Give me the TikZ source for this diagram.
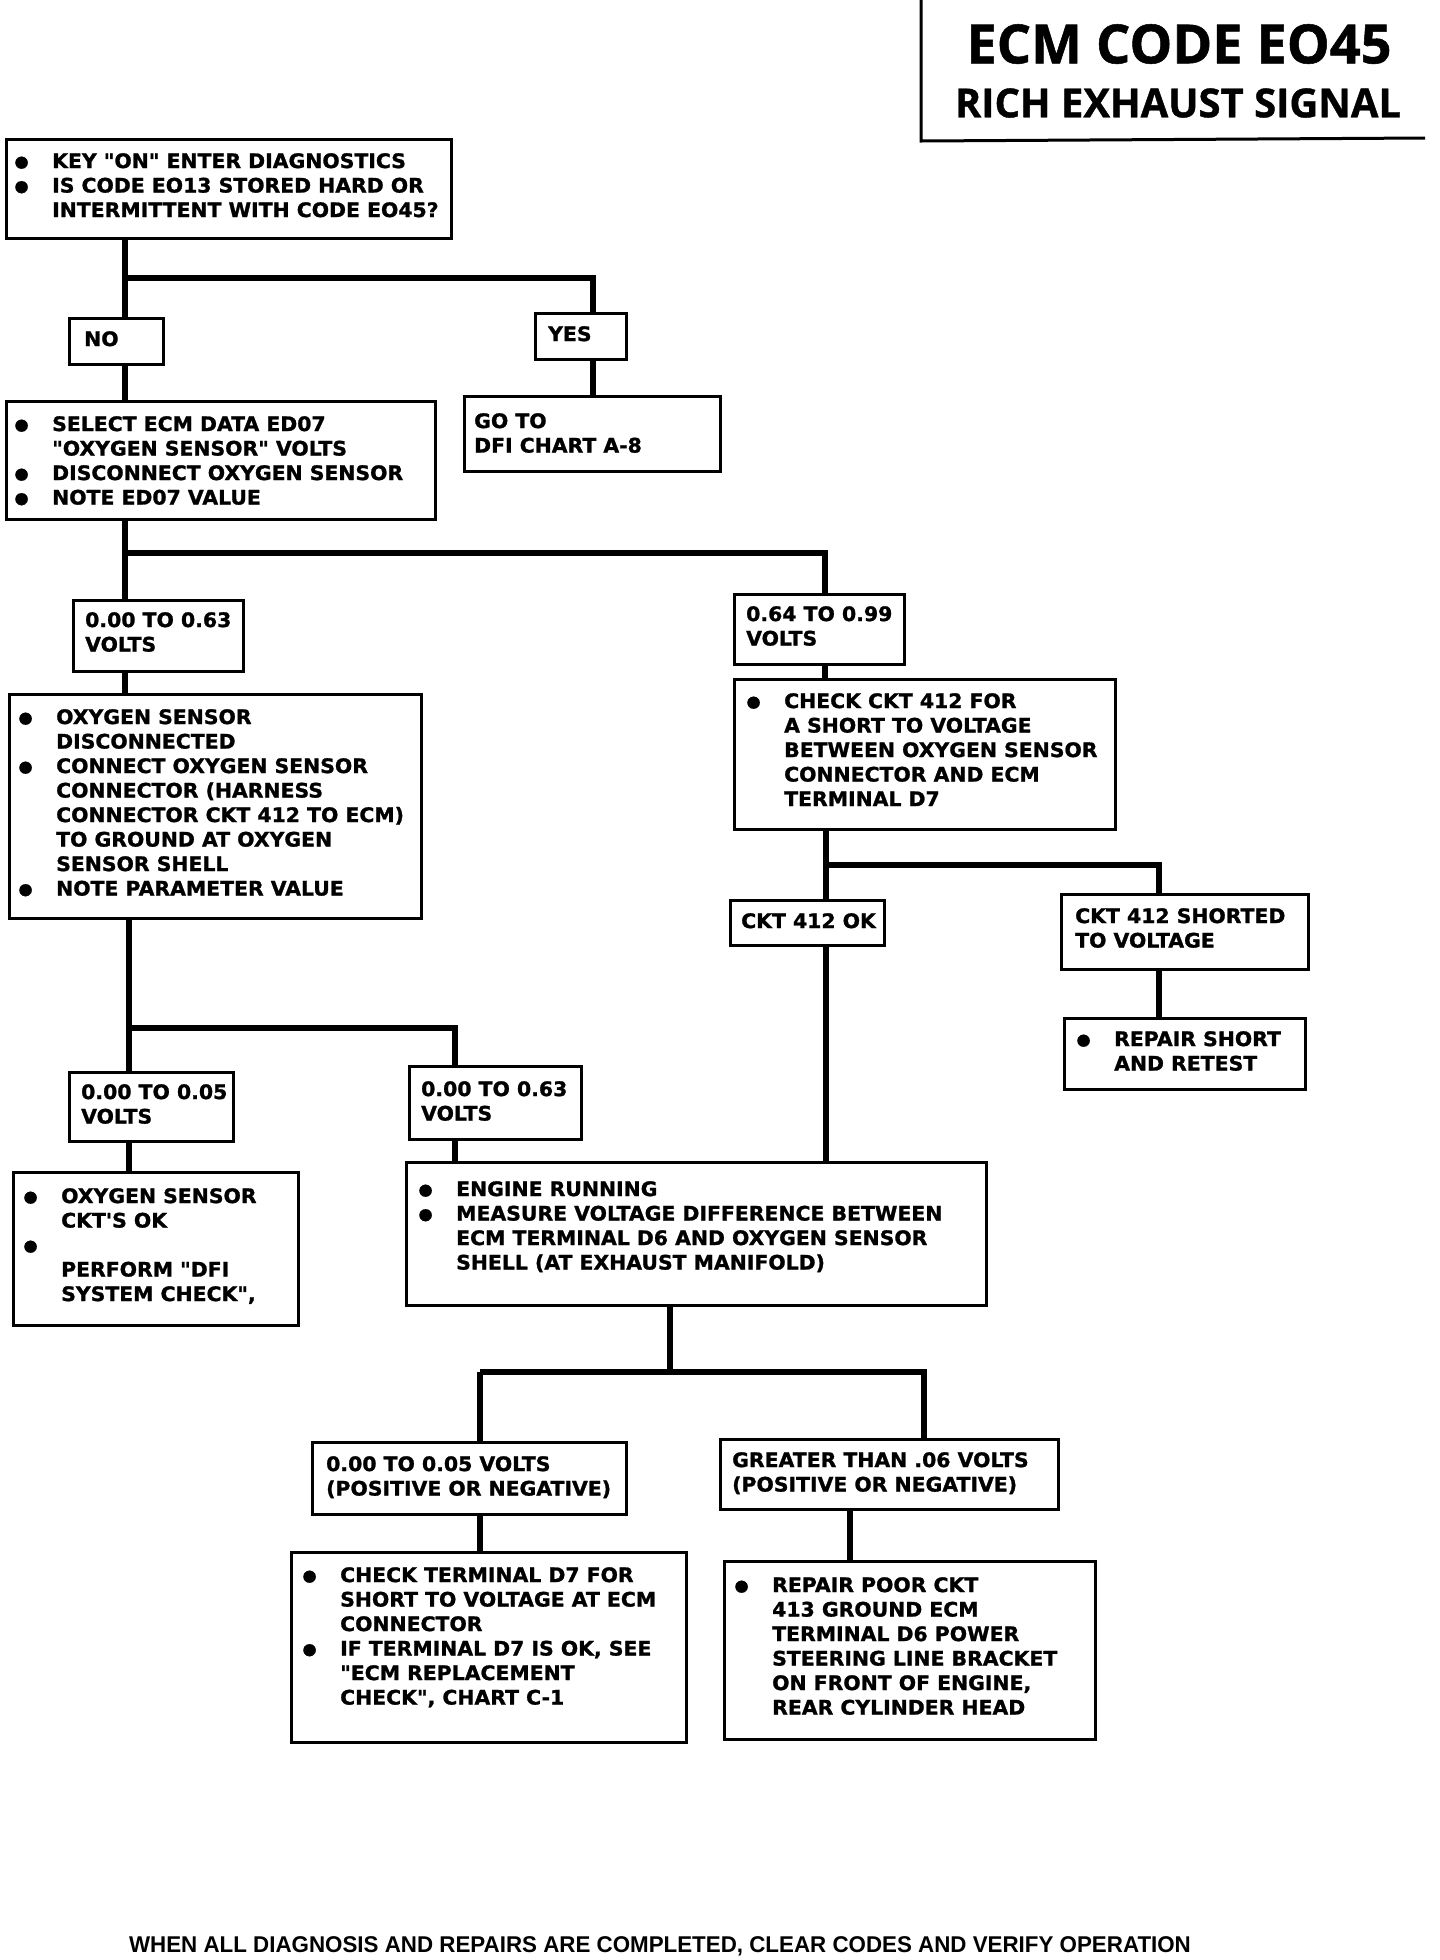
\documentclass[tikz,border=0pt]{standalone}
\usepackage{fontspec}
\setmainfont{DejaVu Sans}
\newfontfamily\chartfont{DejaVu Sans}[FakeStretch=1.02, FakeBold=1.2]
\newfontfamily\titlefont{Open Sans}[FakeBold=1]
\newfontfamily\footfont{Liberation Sans}[FakeStretch=0.98]
\usetikzlibrary{positioning}

% bullet set in front of a line
\newcommand{\bul}{\makebox[0pt][r]{\raisebox{1.2pt}{\fontsize{16}{16}\selectfont ●}\hspace{23.5pt}}}

\tikzset{
  panel/.style={draw, line width=3pt, inner sep=0pt, outer sep=0pt, anchor=north west},
  words/.style={inner sep=0pt, anchor=north west, align=left,
    font={\chartfont\bfseries\fontsize{20}{24.5}\selectfont}},
  link/.style={line width=6pt},
}

\begin{document}
\begin{tikzpicture}[x=1pt, y=-1pt]
    \fill[white] (0,0) rectangle (1440,1960);
    \useasboundingbox (0,0) rectangle (1440,1960);

    % title corner
    \draw[line width=3pt] (921,0) -- (921,141) -- (1425,138);
    \node[font={\titlefont\bfseries\fontsize{54}{54}\selectfont}] (title) at (1179,44) {ECM CODE EO45};
    \node[font={\titlefont\bfseries\fontsize{40}{40}\selectfont}] (subtitle) at (1178,103) {RICH EXHAUST SIGNAL};

    % boxes
    \node[panel, minimum width=445, minimum height=99] (keyon) at (6,139) {};
    \node[words, below right=14pt and 46pt of keyon.north west] (keyon-t) {\bul KEY "ON" ENTER DIAGNOSTICS\\ \bul IS CODE EO13 STORED HARD OR\\ INTERMITTENT WITH CODE EO45?};

    \node[panel, minimum width=94, minimum height=46] (no) at (69,318) {};
    \node[words, below right=13pt and 15pt of no.north west] (no-t) {NO};
    \node[panel, minimum width=91, minimum height=46] (yes) at (535,313) {};
    \node[words, below right=13pt and 13pt of yes.north west] (yes-t) {YES};

    \node[panel, minimum width=429, minimum height=118] (select) at (6,401) {};
    \node[words, below right=15pt and 46pt of select.north west] (select-t) {\bul SELECT ECM DATA ED07\\ "OXYGEN SENSOR" VOLTS\\ \bul DISCONNECT OXYGEN SENSOR\\ \bul NOTE ED07 VALUE};
    \node[panel, minimum width=256, minimum height=75] (goto) at (464,396) {};
    \node[words, below right=17pt and 10pt of goto.north west] (goto-t) {GO TO\\ DFI CHART A-8};

    \node[panel, minimum width=170, minimum height=71] (low1) at (73,600) {};
    \node[words, below right=12pt and 12pt of low1.north west] (low1-t) {0.00 TO 0.63\\ VOLTS};
    \node[panel, minimum width=170, minimum height=70] (high1) at (734,594) {};
    \node[words, below right=12pt and 12pt of high1.north west] (high1-t) {0.64 TO 0.99\\ VOLTS};

    \node[panel, minimum width=412, minimum height=224] (oxy) at (9,694) {};
    \node[words, below right=15pt and 47pt of oxy.north west] (oxy-t) {\bul OXYGEN SENSOR\\ DISCONNECTED\\ \bul CONNECT OXYGEN SENSOR\\ CONNECTOR (HARNESS\\ CONNECTOR CKT 412 TO ECM)\\ TO GROUND AT OXYGEN\\ SENSOR SHELL\\ \bul NOTE PARAMETER VALUE};
    \node[panel, minimum width=381, minimum height=150] (check) at (734,679) {};
    \node[words, below right=14pt and 50pt of check.north west] (check-t) {\bul CHECK CKT 412 FOR\\ A SHORT TO VOLTAGE\\ BETWEEN OXYGEN SENSOR\\ CONNECTOR AND ECM\\ TERMINAL D7};

    \node[panel, minimum width=154, minimum height=45] (ok) at (730,900) {};
    \node[words, below right=13pt and 11pt of ok.north west] (ok-t) {CKT 412 OK};
    \node[panel, minimum width=247, minimum height=75] (shorted) at (1061,894) {};
    \node[words, below right=14pt and 14pt of shorted.north west] (shorted-t) {CKT 412 SHORTED\\ TO VOLTAGE};
    \node[panel, minimum width=241, minimum height=71] (repair) at (1064,1018) {};
    \node[words, below right=13pt and 50pt of repair.north west] (repair-t) {\bul REPAIR SHORT\\ AND RETEST};

    \node[panel, minimum width=164, minimum height=69] (low2) at (69,1072) {};
    \node[words, below right=12pt and 12pt of low2.north west] (low2-t) {0.00 TO 0.05\\ VOLTS};
    \node[panel, minimum width=172, minimum height=73] (mid2) at (409,1066) {};
    \node[words, below right=15pt and 12pt of mid2.north west] (mid2-t) {0.00 TO 0.63\\ VOLTS};

    \node[panel, minimum width=285, minimum height=153] (ckts) at (13,1172) {};
    \node[words, below right=16pt and 48pt of ckts.north west] (ckts-t) {\bul OXYGEN SENSOR\\ CKT'S OK\\ \bul\\ PERFORM "DFI\\ SYSTEM CHECK",};
    \node[panel, minimum width=580, minimum height=143] (engine) at (406,1162) {};
    \node[words, below right=19pt and 50pt of engine.north west] (engine-t) {\bul ENGINE RUNNING\\ \bul MEASURE VOLTAGE DIFFERENCE BETWEEN\\ ECM TERMINAL D6 AND OXYGEN SENSOR\\ SHELL (AT EXHAUST MANIFOLD)};

    \node[panel, minimum width=314, minimum height=72] (zero) at (312,1442) {};
    \node[words, below right=14pt and 14pt of zero.north west] (zero-t) {0.00 TO 0.05 VOLTS\\ (POSITIVE OR NEGATIVE)};
    \node[panel, minimum width=338, minimum height=70] (greater) at (720,1439) {};
    \node[words, below right=13pt and 12pt of greater.north west] (greater-t) {GREATER THAN .06 VOLTS\\ (POSITIVE OR NEGATIVE)};

    \node[panel, minimum width=395, minimum height=190] (checkterm) at (291,1552) {};
    \node[words, below right=15pt and 49pt of checkterm.north west] (checkterm-t) {\bul CHECK TERMINAL D7 FOR\\ SHORT TO VOLTAGE AT ECM\\ CONNECTOR\\ \bul IF TERMINAL D7 IS OK, SEE\\ "ECM REPLACEMENT\\ CHECK", CHART C-1};
    \node[panel, minimum width=371, minimum height=178] (repairpoor) at (724,1561) {};
    \node[words, below right=16pt and 48pt of repairpoor.north west] (repairpoor-t) {\bul REPAIR POOR CKT\\ 413 GROUND ECM\\ TERMINAL D6 POWER\\ STEERING LINE BRACKET\\ ON FRONT OF ENGINE,\\ REAR CYLINDER HEAD};

    % branch points
    \coordinate (a1) at (125,278);  \coordinate (a2) at (593,278);
    \coordinate (b1) at (125,553);  \coordinate (b2) at (825,553);
    \coordinate (c1) at (826,865);  \coordinate (c2) at (1159,865);
    \coordinate (d1) at (129,1028); \coordinate (d2) at (455,1028);
    \coordinate (e0) at (670,1372); \coordinate (e1) at (480,1372); \coordinate (e2) at (924,1372);
    \coordinate (g1) at (850,1530);

    % connectors
    \draw[link] (keyon.south -| a1) -- (no.north -| a1);
    \draw[link] (a1) -- (a2) -- (yes.north -| a2);
    \draw[link] (no.south -| a1) -- (select.north -| a1);
    \draw[link] (yes.south -| a2) -- (goto.north -| a2);
    \draw[link] (select.south -| b1) -- (low1.north -| b1);
    \draw[link] (b1) -- (b2) -- (high1.north -| b2);
    \draw[link] (low1.south -| b1) -- (oxy.north -| b1);
    \draw[link] (high1.south -| b2) -- (check.north -| b2);
    \draw[link] (check.south -| c1) -- (ok.north -| c1);
    \draw[link] (c1) -- (c2) -- (shorted.north -| c2);
    \draw[link] (shorted.south -| c2) -- (repair.north -| c2);
    \draw[link] (ok.south -| c1) -- (engine.north -| c1);
    \draw[link] (oxy.south -| d1) -- (low2.north -| d1);
    \draw[link] (d1) -- (d2) -- (mid2.north -| d2);
    \draw[link] (low2.south -| d1) -- (ckts.north -| d1);
    \draw[link] (mid2.south -| d2) -- (engine.north -| d2);
    \draw[link] (engine.south -| e0) -- (e0);
    \draw[link] (e1) -- (e2) -- (greater.north -| e2);
    \draw[link] (e1) -- (zero.north -| e1);
    \draw[link] (zero.south -| e1) -- (checkterm.north -| e1);
    \draw[link] (greater.south -| g1) -- (repairpoor.north -| g1);

    \node[font={\footfont\bfseries\fontsize{22.8}{22.8}\selectfont}] (note) at (660,1946) {WHEN ALL DIAGNOSIS AND REPAIRS ARE COMPLETED, CLEAR CODES AND VERIFY OPERATION};
\end{tikzpicture}
\end{document}
